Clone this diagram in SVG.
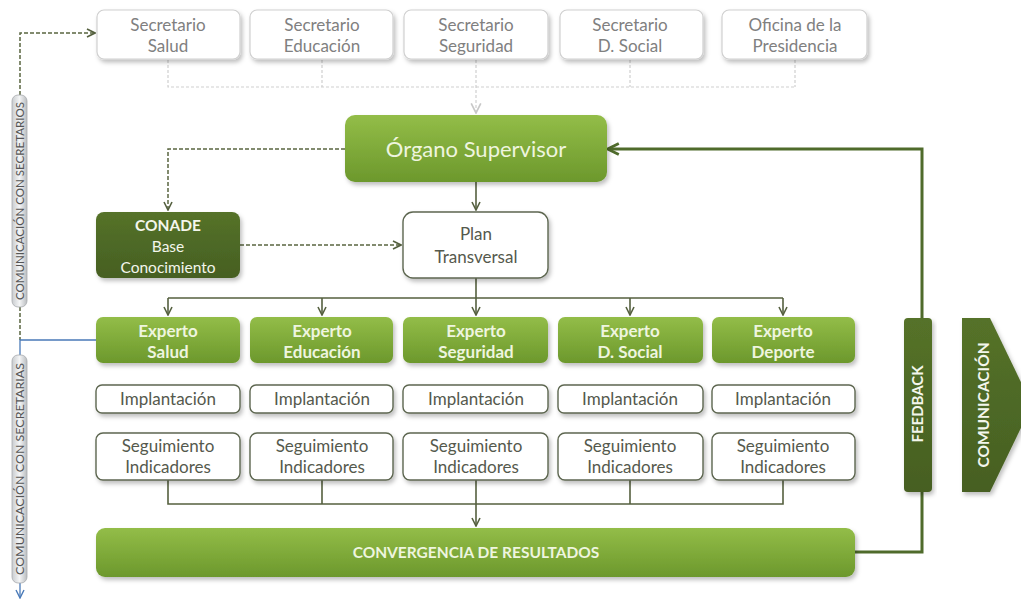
<svg xmlns="http://www.w3.org/2000/svg" width="1021" height="600" viewBox="0 0 1021 600">
<defs>
<linearGradient id="gG" x1="0" y1="0" x2="0" y2="1"><stop offset="0" stop-color="#93bd48"/><stop offset="1" stop-color="#6c982c"/></linearGradient>
<linearGradient id="gD" x1="0" y1="0" x2="0" y2="1"><stop offset="0" stop-color="#557229"/><stop offset="1" stop-color="#465f22"/></linearGradient>
<linearGradient id="gBar" x1="0" y1="0" x2="1" y2="0"><stop offset="0" stop-color="#c9cccf"/><stop offset="0.5" stop-color="#f4f5f6"/><stop offset="1" stop-color="#b9bcbf"/></linearGradient>
<filter id="sh" x="-10%" y="-10%" width="125%" height="140%"><feDropShadow dx="2" dy="3" stdDeviation="2" flood-color="#000" flood-opacity="0.25"/></filter>
<marker id="aD" viewBox="0 0 10 10" refX="9" refY="5" markerWidth="10" markerHeight="10" markerUnits="userSpaceOnUse" orient="auto"><path d="M1,1 L9,5 L1,9" fill="none" stroke="#55603f" stroke-width="1.6"/></marker>
<marker id="aL" viewBox="0 0 10 10" refX="9" refY="5" markerWidth="12" markerHeight="12" markerUnits="userSpaceOnUse" orient="auto"><path d="M1,1 L9,5 L1,9" fill="none" stroke="#c8c8c8" stroke-width="1.4"/></marker>
<marker id="aF" viewBox="0 0 10 10" refX="8" refY="5" markerWidth="14" markerHeight="14" markerUnits="userSpaceOnUse" orient="auto"><path d="M1,1 L9,5 L1,9" fill="none" stroke="#4f6b2b" stroke-width="2"/></marker>
<marker id="aB" viewBox="0 0 10 10" refX="9" refY="5" markerWidth="10" markerHeight="10" markerUnits="userSpaceOnUse" orient="auto"><path d="M1,1 L9,5 L1,9" fill="none" stroke="#4a7ab8" stroke-width="1.4"/></marker>
</defs>
<style>
text{font-family:Lato,"Liberation Sans",sans-serif;text-anchor:middle}
.sec rect{fill:#fff;stroke:#d0d0d0;stroke-width:1.2;filter:url(#sh)}
.sec text{fill:#808080;font-size:17px}
.exp rect{fill:url(#gG);filter:url(#sh)}
.exp text{fill:#eef5df;font-size:17px;font-weight:bold}
.wb rect{fill:#fff;stroke:#5d6650;stroke-width:1.4;filter:url(#sh)}
.wb text{fill:#55594d;font-size:17px}
.dk rect,.dk polygon{fill:url(#gD);filter:url(#sh)}
.dk text{fill:#f3f6ec;font-weight:bold}
.bar rect{fill:url(#gBar);stroke:#a8abae;stroke-width:0.8}
.bar text{fill:#555;font-size:10.5px}
.c{fill:none}
.dn{stroke:#55603f;stroke-width:1.6}
</style>

<g id="connectors" class="c">
<path d="M168,60 V87 H795 M322,60 V87 M630,60 V87 M795,60 V87" stroke="#cfcfcf" stroke-width="1.2" stroke-dasharray="3,2"/>
<path d="M476,60 V113" stroke="#cfcfcf" stroke-width="1.2" stroke-dasharray="3,2" marker-end="url(#aL)"/>
<path d="M345,149 H168 V210" stroke="#5a6640" stroke-width="1.5" stroke-dasharray="4,2" marker-end="url(#aD)"/>
<path d="M240,245 H401" stroke="#5a6640" stroke-width="1.5" stroke-dasharray="4,2" marker-end="url(#aD)"/>
<path class="dn" d="M476,182 V210" marker-end="url(#aD)"/>
<path class="dn" d="M476,278 V298 M168,298 H783"/>
<path class="dn" d="M168,298 V315" marker-end="url(#aD)"/>
<path class="dn" d="M322,298 V315" marker-end="url(#aD)"/>
<path class="dn" d="M476,298 V315" marker-end="url(#aD)"/>
<path class="dn" d="M630,298 V315" marker-end="url(#aD)"/>
<path class="dn" d="M783,298 V315" marker-end="url(#aD)"/>
<path class="dn" d="M168,480 V504 H783 V480 M322,480 V504 M630,480 V504"/>
<path class="dn" d="M476,480 V526" marker-end="url(#aD)"/>
<path d="M855,552 H922 V149 H609" stroke="#4f6b2b" stroke-width="3" marker-end="url(#aF)"/>
<path d="M20,95 V33 H95" stroke="#5a6640" stroke-width="1.5" stroke-dasharray="4,2" marker-end="url(#aD)"/>
<path d="M20,307 V340" stroke="#5a6640" stroke-width="1.5" stroke-dasharray="4,2"/>
<path d="M96,340 H20 V355" stroke="#4a7ab8" stroke-width="1.3"/>
<path d="M20,583 V598" stroke="#4a7ab8" stroke-width="1.3" marker-end="url(#aB)"/>
</g>

<g id="sec-salud" class="sec"><rect x="97" y="10" width="143" height="49" rx="7"/><text x="168" y="31">Secretario</text><text x="168" y="52">Salud</text></g>
<g id="sec-educacion" class="sec"><rect x="250" y="10" width="143" height="49" rx="7"/><text x="322" y="31">Secretario</text><text x="322" y="52">Educación</text></g>
<g id="sec-seguridad" class="sec"><rect x="404" y="10" width="144" height="49" rx="7"/><text x="476" y="31">Secretario</text><text x="476" y="52">Seguridad</text></g>
<g id="sec-dsocial" class="sec"><rect x="560" y="10" width="143" height="49" rx="7"/><text x="630" y="31">Secretario</text><text x="630" y="52">D. Social</text></g>
<g id="sec-presidencia" class="sec"><rect x="722" y="10" width="145" height="49" rx="7"/><text x="795" y="31">Oficina de la</text><text x="795" y="52">Presidencia</text></g>

<g id="organo" class="exp"><rect x="345" y="115" width="262" height="67" rx="10"/><text x="476" y="157" style="font-size:22px;font-weight:normal">Órgano Supervisor</text></g>

<g id="conade" class="dk"><rect x="96" y="212" width="144" height="66" rx="8"/><text x="168" y="231" font-size="15.5">CONADE</text><text x="168" y="252" font-size="15.5" style="font-weight:normal">Base</text><text x="168" y="273" font-size="15.5" style="font-weight:normal">Conocimiento</text></g>

<g id="plan" class="wb"><rect x="403" y="212" width="145" height="66" rx="10"/><text x="476" y="240">Plan</text><text x="476" y="263">Transversal</text></g>

<g id="exp-salud" class="exp"><rect x="96" y="317" width="144" height="46" rx="7"/><text x="168" y="337">Experto</text><text x="168" y="358">Salud</text></g>
<g id="exp-educacion" class="exp"><rect x="250" y="317" width="143" height="46" rx="7"/><text x="322" y="337">Experto</text><text x="322" y="358">Educación</text></g>
<g id="exp-seguridad" class="exp"><rect x="403" y="317" width="145" height="46" rx="7"/><text x="476" y="337">Experto</text><text x="476" y="358">Seguridad</text></g>
<g id="exp-dsocial" class="exp"><rect x="558" y="317" width="145" height="46" rx="7"/><text x="630" y="337">Experto</text><text x="630" y="358">D. Social</text></g>
<g id="exp-deporte" class="exp"><rect x="712" y="317" width="143" height="46" rx="7"/><text x="783" y="337">Experto</text><text x="783" y="358">Deporte</text></g>

<g id="imp-1" class="wb"><rect x="96" y="385" width="144" height="28" rx="6"/><text x="168" y="405">Implantación</text></g>
<g id="imp-2" class="wb"><rect x="250" y="385" width="143" height="28" rx="6"/><text x="322" y="405">Implantación</text></g>
<g id="imp-3" class="wb"><rect x="403" y="385" width="145" height="28" rx="6"/><text x="476" y="405">Implantación</text></g>
<g id="imp-4" class="wb"><rect x="558" y="385" width="145" height="28" rx="6"/><text x="630" y="405">Implantación</text></g>
<g id="imp-5" class="wb"><rect x="712" y="385" width="143" height="28" rx="6"/><text x="783" y="405">Implantación</text></g>

<g id="seg-1" class="wb"><rect x="96" y="433" width="144" height="47" rx="7"/><text x="168" y="452">Seguimiento</text><text x="168" y="473">Indicadores</text></g>
<g id="seg-2" class="wb"><rect x="250" y="433" width="143" height="47" rx="7"/><text x="322" y="452">Seguimiento</text><text x="322" y="473">Indicadores</text></g>
<g id="seg-3" class="wb"><rect x="403" y="433" width="145" height="47" rx="7"/><text x="476" y="452">Seguimiento</text><text x="476" y="473">Indicadores</text></g>
<g id="seg-4" class="wb"><rect x="558" y="433" width="145" height="47" rx="7"/><text x="630" y="452">Seguimiento</text><text x="630" y="473">Indicadores</text></g>
<g id="seg-5" class="wb"><rect x="712" y="433" width="143" height="47" rx="7"/><text x="783" y="452">Seguimiento</text><text x="783" y="473">Indicadores</text></g>

<g id="convergencia" class="exp"><rect x="96" y="528" width="759" height="49" rx="9"/><text x="476" y="558" style="font-size:15.5px">CONVERGENCIA DE RESULTADOS</text></g>

<g id="feedback" class="dk"><rect x="904" y="318" width="28" height="174" rx="4"/><text transform="translate(923,404) rotate(-90)" font-size="15">FEEDBACK</text></g>

<g id="comunicacion" class="dk"><polygon points="962,318 990,318 1032,405 990,492 962,492"/><text transform="translate(989,405) rotate(-90)" font-size="15.5">COMUNICACIÓN</text></g>

<g id="com-secretarios" class="bar"><rect x="12" y="95" width="15" height="212" rx="6"/><text transform="translate(23.5,201) rotate(-90)" textLength="198" lengthAdjust="spacingAndGlyphs">COMUNICACIÓN CON SECRETARIOS</text></g>
<g id="com-secretarias" class="bar"><rect x="12" y="355" width="15" height="228" rx="6"/><text transform="translate(23.5,469) rotate(-90)" textLength="212" lengthAdjust="spacingAndGlyphs">COMUNICACIÓN CON  SECRETARIAS</text></g>
</svg>
